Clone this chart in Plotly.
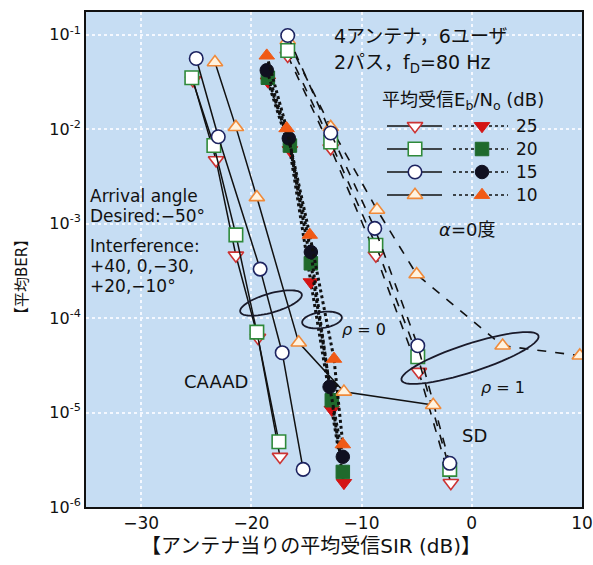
import math
import plotly.graph_objects as go

# ---------------- data ----------------
ebno_levels = ["25", "20", "15", "10"]

# CAAAD (solid lines, open markers)
caaad_x_25 = [-25.3, -23.2, -21.4, -19.4, -17.4]
caaad_y_25 = [3.3e-2, 4.7e-3, 4.6e-4, 6.2e-5, 3.4e-6]
caaad_x_20 = [-25.4, -23.4, -21.4, -19.5, -17.5]
caaad_y_20 = [3.5e-2, 6.7e-3, 7.6e-4, 7.1e-5, 4.9e-6]
caaad_x_15 = [-25.0, -23.0, -19.2, -17.2, -15.3]
caaad_y_15 = [5.6e-2, 8.3e-3, 3.3e-4, 4.3e-5, 2.5e-6]
caaad_x_10 = [-23.3, -21.4, -19.5, -15.7, -11.6, -3.5]
caaad_y_10 = [5.1e-2, 1.05e-2, 1.9e-3, 5.5e-5, 1.66e-5, 1.2e-5]

# CAAAD rho=0 (dotted lines, filled markers)
rho0_x_25 = [-18.5, -16.5, -14.6, -12.7, -11.6]
rho0_y_25 = [3.2e-2, 6.0e-3, 2.4e-4, 1.07e-5, 1.8e-6]
rho0_x_20 = [-18.5, -16.5, -14.6, -12.7, -11.7]
rho0_y_20 = [3.5e-2, 6.7e-3, 3.8e-4, 1.35e-5, 2.35e-6]
rho0_x_15 = [-18.6, -16.6, -14.6, -12.9, -11.7]
rho0_y_15 = [4.2e-2, 8.0e-3, 5.0e-4, 1.87e-5, 3.4e-6]
rho0_x_10 = [-18.6, -16.8, -14.7, -12.5, -11.7]
rho0_y_10 = [6.0e-2, 1.02e-2, 7.6e-4, 3.7e-5, 4.6e-6]

# SD (dashed lines, open markers)
sd_x_25 = [-16.7, -12.8, -8.7, -4.8, -1.9]
sd_y_25 = [6.0e-2, 6.3e-3, 4.6e-4, 2.7e-5, 1.8e-6]
sd_x_20 = [-16.7, -12.8, -8.7, -4.9, -2.0]
sd_y_20 = [6.8e-2, 7.3e-3, 5.9e-4, 3.9e-5, 2.5e-6]
sd_x_15 = [-16.7, -12.8, -8.8, -4.9, -2.0]
sd_y_15 = [9.8e-2, 9.1e-3, 8.9e-4, 5.1e-5, 2.9e-6]
sd_x_10 = [-16.7, -12.8, -8.6, -5.0, 2.8, 9.8]
sd_y_10 = [8.7e-2, 1.05e-2, 1.4e-3, 2.9e-4, 5.1e-5, 4.0e-5]

x_ticks = [-30, -20, -10, 0, 10]
x_tick_text = ["−30", "−20", "−10", "0", "10"]
y_ticks = [1e-6, 1e-5, 1e-4, 1e-3, 1e-2, 1e-1]
y_tick_text = ["10<sup>-6</sup>", "10<sup>-5</sup>", "10<sup>-4</sup>",
               "10<sup>-3</sup>", "10<sup>-2</sup>", "10<sup>-1</sup>"]

# ---------------- styles ----------------
FONT = "DejaVu Sans, Noto Sans CJK JP, sans-serif"
open_style = {
    "25": dict(symbol="triangle-down", color="#ffffff", line=dict(color="#cc3333", width=1.6)),
    "20": dict(symbol="square", color="#ffffff", line=dict(color="#2f8a3a", width=1.6)),
    "15": dict(symbol="circle", color="#ffffff", line=dict(color="#1d2360", width=1.6)),
    "10": dict(symbol="triangle-up", color="#fff3e0", line=dict(color="#ef8a3a", width=1.6)),
}
fill_style = {
    "25": dict(symbol="triangle-down", color="#d41414", line=dict(color="#d41414", width=1)),
    "20": dict(symbol="square", color="#1f6a2c", line=dict(color="#1f6a2c", width=1)),
    "15": dict(symbol="circle", color="#101020", line=dict(color="#101020", width=1)),
    "10": dict(symbol="triangle-up", color="#f05a16", line=dict(color="#f05a16", width=1)),
}
MS = 13.5

fig = go.Figure()

def add(xs, ys, level, dash, width, filled):
    st = (fill_style if filled else open_style)[level]
    fig.add_trace(go.Scatter(
        x=xs, y=ys, mode="lines+markers",
        line=dict(color="#111111", width=width, dash=dash),
        marker=dict(size=MS, symbol=st["symbol"], color=st["color"], line=st["line"]),
        showlegend=False, hoverinfo="skip"))

sd = {"25": (sd_x_25, sd_y_25), "20": (sd_x_20, sd_y_20),
      "15": (sd_x_15, sd_y_15), "10": (sd_x_10, sd_y_10)}
rho0 = {"25": (rho0_x_25, rho0_y_25), "20": (rho0_x_20, rho0_y_20),
        "15": (rho0_x_15, rho0_y_15), "10": (rho0_x_10, rho0_y_10)}
caaad = {"25": (caaad_x_25, caaad_y_25), "20": (caaad_x_20, caaad_y_20),
         "15": (caaad_x_15, caaad_y_15), "10": (caaad_x_10, caaad_y_10)}

for lv in ["10", "25", "20", "15"]:
    add(*sd[lv], lv, "dash", 1.6, False)
for lv in ["25", "20", "15", "10"]:
    add(*rho0[lv], lv, "dot", 3, True)
for lv in ["10", "25", "20", "15"]:
    add(*caaad[lv], lv, "solid", 1.5, False)

# ---------------- legend (overlay axes 0..1) ----------------
PL, PR, PT, PB = 86, 582, 12, 507
def px(x):
    return (x - PL) / (PR - PL)
def py(y):
    return (PB - y) / (PB - PT)

row_y = [126, 149, 172, 195]
for lv, ry in zip(ebno_levels, row_y):
    fig.add_trace(go.Scatter(x=[px(387), px(442)], y=[py(ry), py(ry)], mode="lines",
                             line=dict(color="#111111", width=1.5), xaxis="x2", yaxis="y2",
                             showlegend=False, hoverinfo="skip"))
    fig.add_trace(go.Scatter(x=[px(453), px(508)], y=[py(ry), py(ry)], mode="lines",
                             line=dict(color="#111111", width=1.5, dash="dot"), xaxis="x2", yaxis="y2",
                             showlegend=False, hoverinfo="skip"))
    so, sf = open_style[lv], fill_style[lv]
    fig.add_trace(go.Scatter(x=[px(415)], y=[py(ry)], mode="markers",
                             marker=dict(size=MS, symbol=so["symbol"], color=so["color"], line=so["line"]),
                             xaxis="x2", yaxis="y2", showlegend=False, hoverinfo="skip"))
    fig.add_trace(go.Scatter(x=[px(482)], y=[py(ry)], mode="markers",
                             marker=dict(size=MS, symbol=sf["symbol"], color=sf["color"], line=sf["line"]),
                             xaxis="x2", yaxis="y2", showlegend=False, hoverinfo="skip"))

# ---------------- annotations ----------------
def ann(text, x, y, xanchor="center", size=16, align="left", angle=0):
    fig.add_annotation(text=text, x=px(x), y=py(y), xref="paper", yref="paper",
                       xanchor=xanchor, yanchor="middle", showarrow=False, align=align,
                       textangle=angle,
                       font=dict(family=FONT, size=size, color="#111111"))

for lv, ry in zip(ebno_levels, row_y):
    ann(lv, 514, ry, xanchor="left", size=17)
ann("4アンテナ，6ユーザ", 332, 36, xanchor="left", size=19)
ann("2パス，f<sub>D</sub>=80 Hz", 332, 63, xanchor="left", size=19)
ann("平均受信E<sub>b</sub>/N<sub>o</sub> (dB)", 463, 101, size=18)
ann("<i>α</i>=0度", 467, 229, size=18)
ann("Arrival angle", 88, 196, xanchor="left", size=17)
ann("Desired:−50°", 88, 216, xanchor="left", size=17)
ann("Interference:", 88, 246, xanchor="left", size=17)
ann("+40, 0,−30,", 88, 266, xanchor="left", size=17)
ann("+20,−10°", 88, 286, xanchor="left", size=17)
ann("CAAAD", 216, 381, size=18)
ann("SD", 474, 435, size=18)
ann("<i>ρ</i> = 0", 364, 330, size=16)
ann("<i>ρ</i> = 1", 503, 387, size=16)
ann("【平均BER】", 22, 277, size=15, angle=-90)
ann("【アンテナ当りの平均受信SIR (dB)】", 311, 546, size=20)

# ---------------- ellipses (pixel-space, converted to paper) ----------------
def ellipse(cx, cy, a, b, deg, n=60):
    th = math.radians(deg)
    pts = []
    for i in range(n + 1):
        t = 2 * math.pi * i / n
        x = cx + a * math.cos(th) * math.cos(t) - b * math.sin(th) * math.sin(t)
        y = cy - (a * math.sin(th) * math.cos(t) + b * math.cos(th) * math.sin(t))
        pts.append((px(x), py(y)))
    path = "M " + " L ".join(f"{x:.5f},{y:.5f}" for x, y in pts) + " Z"
    fig.add_shape(type="path", path=path, xref="paper", yref="paper",
                  line=dict(color="#1a1a2a", width=1.8))

ellipse(271, 303, 32, 9.5, 16)
ellipse(322, 320, 20, 8, 8)
ellipse(470, 358, 72, 14, 18)

# ---------------- layout ----------------
fig.update_layout(
    width=593, height=565,
    margin=dict(l=PL, r=593 - PR, t=PT, b=565 - PB, autoexpand=False),
    paper_bgcolor="#ffffff", plot_bgcolor="#c6ddf3",
    font=dict(family=FONT, size=15, color="#111111"),
    xaxis=dict(range=[-35, 10], tickvals=x_ticks, ticktext=x_tick_text,
               showgrid=True, gridcolor="#f4f8ff", griddash="dot", gridwidth=1.5,
               showline=True, linecolor="#111111", linewidth=2, mirror=True,
               zeroline=False, ticks="", tickfont=dict(size=17), automargin=False),
    yaxis=dict(type="log", range=[-6, -0.76], tickvals=y_ticks, ticktext=y_tick_text,
               showgrid=True, gridcolor="#f4f8ff", griddash="dot", gridwidth=1.5,
               showline=True, linecolor="#111111", linewidth=2, mirror=True,
               zeroline=False, ticks="", tickfont=dict(size=16), automargin=False),
    xaxis2=dict(range=[0, 1], overlaying="x", visible=False, anchor="y2"),
    yaxis2=dict(range=[0, 1], overlaying="y", visible=False, anchor="x2"),
)

fig.write_html("out.html")
